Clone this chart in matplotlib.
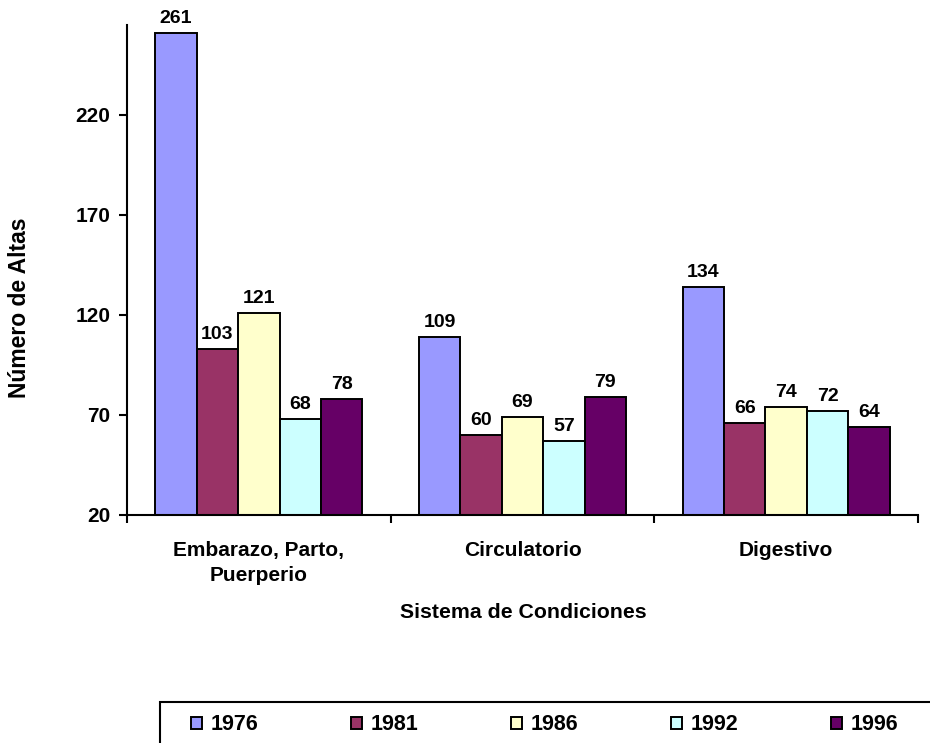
import numpy as np
import matplotlib
matplotlib.use("Agg")
from matplotlib import pyplot as plt
from matplotlib.patches import Rectangle

# data
categories = ["Embarazo, Parto,\nPuerperio", "Circulatorio", "Digestivo"]
years = ["1976", "1981", "1986", "1992", "1996"]
v1976 = [261, 109, 134]
v1981 = [103, 60, 66]
v1986 = [121, 69, 74]
v1992 = [68, 57, 72]
v1996 = [78, 79, 64]
series = [v1976, v1981, v1986, v1992, v1996]
colors = ["#9999FF", "#993366", "#FFFFCC", "#CCFFFF", "#660066"]

plt.rcParams['font.family'] = ['Liberation Sans', 'DejaVu Sans']
plt.rcParams['font.weight'] = 'bold'

fig = plt.figure(figsize=(9.3, 7.43), dpi=100)
ax = fig.add_axes([127/930, 1-515/743, (918-127)/930, (515-25)/743])

x = np.arange(len(categories))
w = 0.157
for i, (vals, c, yr) in enumerate(zip(series, colors, years)):
    pos = x + (i - 2) * w
    ax.bar(pos, vals, width=w, bottom=0, color=c, edgecolor="black", linewidth=1.4, label=yr)
    for p, v in zip(pos, vals):
        ax.annotate(str(v), (p, v), xytext=(0, 4.5), textcoords="offset points",
                    ha="center", va="bottom", fontsize=14, fontweight="bold")

ax.set_ylim(20, 265)
ax.set_xlim(-0.5, 2.5)
ax.set_yticks([20, 70, 120, 170, 220])
ax.tick_params(axis="y", labelsize=15, length=6, width=1.5, pad=6)
ax.set_xticks([-0.5, 0.5, 1.5, 2.5])
ax.set_xticklabels([])
ax.tick_params(axis="x", which="major", length=6, width=1.5)
ax.set_xticks(x, minor=True)
ax.set_xticklabels(categories, minor=True, fontsize=15, fontweight="bold")
ax.tick_params(axis="x", which="minor", length=0, pad=19)
for lab in ax.get_xticklabels(minor=True):
    lab.set_linespacing(1.4)
for lab in ax.get_yticklabels():
    lab.set_fontweight("bold")

for s in ["top", "right"]:
    ax.spines[s].set_visible(False)
for s in ["left", "bottom"]:
    ax.spines[s].set_linewidth(1.5)

fig.text(20/930, 1-308/743, "Número de Altas", rotation=90, ha="center", va="center",
         fontsize=16.5, fontweight="bold")
fig.text(523/930, 1-613/743, "Sistema de Condiciones", ha="center", va="center",
         fontsize=15.3, fontweight="bold")

# legend box runs off the bottom-right edge like the original
fig.patches.append(Rectangle((160/930, -0.05), 1.0, 0.05 + 1-702/743, transform=fig.transFigure,
                             facecolor="none", edgecolor="black", linewidth=1.5))
fig.legend(loc="center left", bbox_to_anchor=(191/930, 1-725/743), ncol=5, frameon=False,
           fontsize=15.5, handlelength=0.5, handleheight=0.5, handletextpad=0.4,
           columnspacing=4.32, borderpad=0, borderaxespad=0)

fig.savefig("out.png", dpi=100)
